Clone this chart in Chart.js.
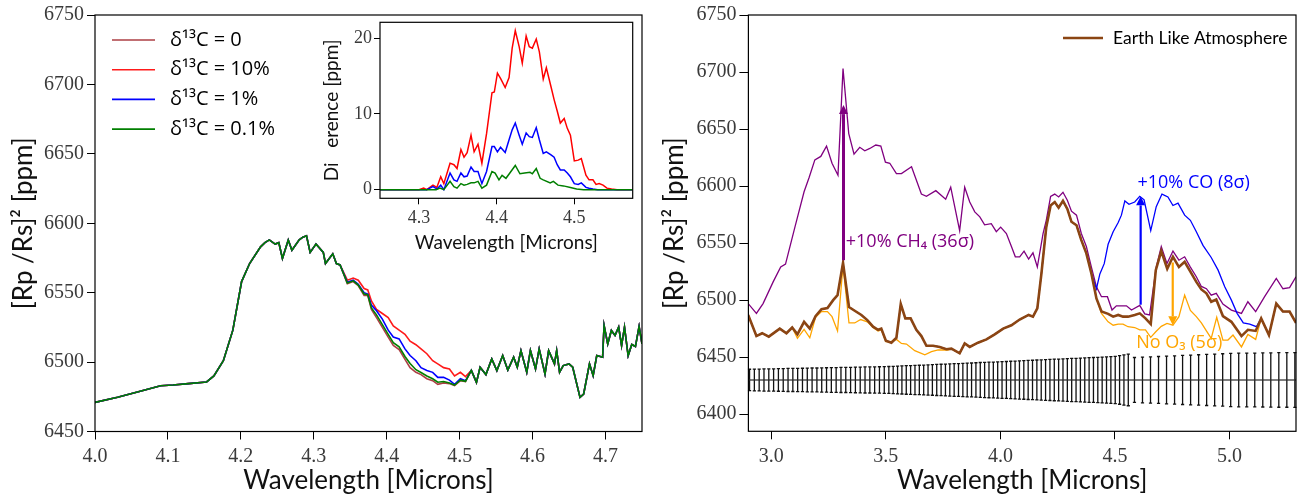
<!DOCTYPE html>
<html>
<head>
<meta charset="utf-8">
<script src="https://cdn.jsdelivr.net/npm/chart.js@4.4.1/dist/chart.umd.min.js"></script>
<style>
  html, body { margin: 0; padding: 0; background: #fff; }
  #wrap { position: relative; width: 1297px; height: 500px; }
  canvas { position: absolute; top: 0; }
  #left { left: 0; }
  #inset { left: 300px; }
  #right { left: 655px; }
</style>
</head>
<body>
<div id="wrap">
  <canvas id="left" width="655" height="500"></canvas>
  <canvas id="inset" width="345" height="260"></canvas>
  <canvas id="right" width="642" height="500"></canvas>
</div>
<script>
// ---------- left panel: d13C spectra ----------
const leftXTicks = [4.0, 4.1, 4.2, 4.3, 4.4, 4.5, 4.6, 4.7];
const leftYTicks = [6450, 6500, 6550, 6600, 6650, 6700, 6750];
const legendLabels = ['δ¹³C = 0', 'δ¹³C = 10%', 'δ¹³C = 1%', 'δ¹³C = 0.1%'];

// shared part before the isotopes split
const headWl = [4.000, 4.031, 4.062, 4.090, 4.107, 4.128, 4.153, 4.163, 4.176, 4.189, 4.201, 4.212, 4.227, 4.233, 4.239,
  4.247, 4.252, 4.257, 4.265, 4.270, 4.280, 4.285, 4.290, 4.295, 4.303, 4.313, 4.316, 4.326, 4.331];
const headPpm = [6471, 6474.6, 6479, 6483, 6483.5, 6484.5, 6485.7, 6490, 6501, 6523, 6558, 6571, 6583, 6586, 6588,
  6585, 6586, 6574.6, 6588, 6580.6, 6588, 6590, 6591, 6579, 6585, 6579, 6571, 6578, 6571];

// region where the four cases differ
const midWl = [4.336, 4.346, 4.354, 4.361, 4.369, 4.374, 4.379, 4.386, 4.394, 4.402, 4.409, 4.417, 4.425, 4.432, 4.440,
  4.447, 4.455, 4.463, 4.470, 4.478, 4.486, 4.493, 4.501, 4.508, 4.516];
const mid0 = [6570, 6556.5, 6558, 6555, 6548, 6548, 6538, 6532, 6525, 6518, 6512, 6509, 6502, 6496, 6492.6,
  6491, 6488, 6486.6, 6484, 6485, 6484.5, 6483, 6486.6, 6486, 6494];
const mid10 = [6570, 6559, 6560.5, 6559, 6553, 6552, 6544, 6538, 6535, 6532, 6526, 6523, 6520, 6515, 6512.5,
  6509.5, 6506, 6501, 6498.7, 6496, 6495, 6490, 6492.6, 6489.5, 6494];
const mid1 = [6570, 6557.5, 6559, 6556, 6550, 6549, 6541, 6537, 6531, 6523, 6518, 6516.7, 6509.5, 6504.7, 6501,
  6496, 6494, 6492.6, 6489, 6489, 6487, 6484, 6488, 6486.5, 6494];
const mid01 = [6570, 6557, 6558.5, 6555.5, 6549, 6548.5, 6539, 6534, 6527, 6520, 6514, 6511, 6504, 6499, 6494.5,
  6492.5, 6490, 6488, 6485.5, 6486, 6485, 6483.5, 6487, 6486.2, 6494];

// shared part after
const tailWl = [4.523, 4.528, 4.536, 4.544, 4.551, 4.559, 4.566, 4.574, 4.579, 4.584, 4.592, 4.597, 4.604, 4.609, 4.617,
  4.622, 4.630, 4.633, 4.637, 4.642, 4.650, 4.655, 4.665, 4.670, 4.678, 4.683, 4.688, 4.696, 4.698, 4.703,
  4.708, 4.713, 4.718, 4.722, 4.726, 4.731, 4.736, 4.741, 4.746, 4.750];
const tailPpm = [6485.4, 6496.3, 6491, 6502.3, 6493.9, 6504.7, 6494.3, 6503.5, 6496.3, 6508.3, 6492.7, 6508.3, 6495, 6509.5, 6491.4,
  6508.3, 6498.7, 6508.3, 6492.7, 6497.5, 6498.7, 6496.3, 6474.6, 6477, 6498.7, 6490.2, 6504.7, 6503.5, 6526.4, 6513.1,
  6522.8, 6519.2, 6525.2, 6511.9, 6525.2, 6504.7, 6512.7, 6511.2, 6525.7, 6513.1];

// ---------- inset: difference ----------
const insetXTicks = [4.3, 4.4, 4.5];
const insetYTicks = [0, 10, 20];
const diff10Wl = [4.25, 4.300, 4.306, 4.310, 4.318, 4.323, 4.328, 4.332, 4.340, 4.345, 4.349, 4.354, 4.358, 4.362, 4.367,
  4.371, 4.376, 4.381, 4.387, 4.394, 4.397, 4.401, 4.405, 4.411, 4.416, 4.420, 4.424, 4.429, 4.433, 4.438,
  4.442, 4.446, 4.451, 4.455, 4.460, 4.464, 4.470, 4.474, 4.478, 4.482, 4.487, 4.491, 4.495, 4.500, 4.505,
  4.509, 4.515, 4.519, 4.524, 4.528, 4.532, 4.537, 4.542, 4.548, 4.555, 4.575];
const diff10 = [0, 0, 0.2, 0, 0.6, 0.3, 1.7, 0.8, 3.5, 3.3, 2.8, 5.3, 4.3, 4.9, 7.2,
  5.0, 6.0, 3.5, 7.4, 12.8, 12.9, 15.4, 14.7, 13.5, 14.8, 18.7, 21.0, 18.9, 16.7, 20.3,
  18.9, 18.7, 19.9, 18.2, 14.6, 16.1, 13.6, 11.9, 10.4, 8.8, 9.4, 8.1, 7.2, 3.8, 3.9,
  4.1, 1.9, 1.3, 1.3, 0.7, 0.8, 0.6, 0.2, 0.1, 0, 0];
const diff1Wl = [4.25, 4.310, 4.314, 4.318, 4.323, 4.328, 4.332, 4.340, 4.345, 4.349, 4.354, 4.358, 4.362, 4.367, 4.371,
  4.376, 4.381, 4.387, 4.394, 4.397, 4.401, 4.405, 4.411, 4.416, 4.420, 4.424, 4.429, 4.433, 4.438, 4.442,
  4.446, 4.451, 4.455, 4.460, 4.464, 4.470, 4.474, 4.478, 4.482, 4.487, 4.491, 4.495, 4.500, 4.505, 4.509,
  4.515, 4.519, 4.524, 4.530, 4.575];
const diff1 = [0, 0, 0.2, 0.4, 0.1, 0.6, 0, 2.2, 1.3, 1.1, 2.2, 1.7, 1.8, 3.0, 2.4,
  2.4, 0.8, 2.4, 5.7, 5.7, 5.0, 5.6, 4.9, 6.6, 7.9, 8.8, 7.2, 6.0, 7.5, 7.0,
  6.9, 8.2, 6.6, 4.8, 5.0, 4.6, 4.3, 3.3, 2.6, 2.6, 2.2, 1.7, 0.8, 0.7, 0.9,
  0.3, 0.2, 0.1, 0, 0];
const diff01Wl = [4.25, 4.322, 4.327, 4.332, 4.340, 4.345, 4.349, 4.354, 4.358, 4.362, 4.367, 4.371, 4.376, 4.381, 4.387,
  4.394, 4.398, 4.403, 4.407, 4.412, 4.417, 4.424, 4.430, 4.436, 4.443, 4.446, 4.451, 4.456, 4.460, 4.469,
  4.473, 4.479, 4.486, 4.495, 4.503, 4.512, 4.575];
const diff01 = [0, 0, 0.2, 0, 1.1, 0.4, 0.2, 0.8, 0.6, 0.7, 0.9, 0.9, 1.1, 0.2, 0.6,
  2.4, 2.2, 1.3, 1.9, 1.5, 2.2, 3.2, 2.1, 2.2, 2.3, 2.1, 2.8, 1.5, 1.3, 0.9,
  1.1, 0.6, 0.5, 0.3, 0.1, 0, 0];

// ---------- right panel: Earth-like spectrum ----------
const rightXTicks = [3.0, 3.5, 4.0, 4.5, 5.0];
const rightYTicks = [6400, 6450, 6500, 6550, 6600, 6650, 6700, 6750];

const earthWl = [2.899, 2.935, 2.960, 2.989, 3.037, 3.066, 3.091, 3.114, 3.143, 3.168, 3.193, 3.219, 3.245, 3.270, 3.289,
  3.313, 3.339, 3.364, 3.393, 3.419, 3.444, 3.466, 3.480, 3.500, 3.524, 3.546, 3.565, 3.585, 3.608, 3.633,
  3.655, 3.677, 3.706, 3.735, 3.764, 3.786, 3.822, 3.844, 3.866, 3.902, 3.939, 3.975, 4.012, 4.048, 4.084,
  4.123, 4.142, 4.161, 4.179, 4.200, 4.219, 4.237, 4.254, 4.273, 4.292, 4.310, 4.332, 4.353, 4.375, 4.397,
  4.419, 4.441, 4.470, 4.492, 4.514, 4.535, 4.557, 4.586, 4.608, 4.633, 4.656, 4.678, 4.702, 4.728, 4.753,
  4.779, 4.804, 4.829, 4.855, 4.877, 4.899, 4.920, 4.942, 4.971, 5.008, 5.052, 5.080, 5.114, 5.138, 5.172,
  5.204, 5.233, 5.262, 5.290];
const earthPpm = [6487, 6468.5, 6471, 6468, 6475, 6471, 6476, 6470, 6481, 6475, 6486, 6492, 6493, 6500, 6504.4,
  6532.7, 6494, 6490.7, 6487, 6482.5, 6476.7, 6474, 6475, 6464.5, 6462.7, 6467, 6496.6, 6484, 6484, 6474,
  6468.5, 6460, 6460, 6459, 6457, 6457.5, 6453.4, 6462, 6459, 6462.7, 6465.6, 6470, 6475, 6478, 6483,
  6487, 6485.5, 6492.8, 6523.4, 6564, 6583, 6586, 6581, 6587, 6580, 6568.7, 6565.7, 6552.6, 6541, 6523.4,
  6501.5, 6490, 6488, 6485.5, 6487, 6485.5, 6485.5, 6487, 6488.4, 6484, 6479, 6526.3, 6543, 6527.5, 6538,
  6529, 6533.6, 6525, 6516, 6509.4, 6506, 6498.6, 6500.6, 6486, 6481, 6468.5, 6474, 6473, 6484, 6469.4,
  6497, 6490, 6490, 6480];

const ch4Wl = [2.899, 2.935, 2.964, 3.008, 3.041, 3.062, 3.103, 3.143, 3.165, 3.190, 3.216, 3.241, 3.265, 3.291, 3.313,
  3.338, 3.361, 3.386, 3.408, 3.430, 3.456, 3.478, 3.498, 3.517, 3.546, 3.568, 3.612, 3.655, 3.677, 3.718,
  3.761, 3.783, 3.822, 3.844, 3.866, 3.888, 3.910, 3.931, 3.960, 3.982, 4.001, 4.026, 4.048, 4.065, 4.084,
  4.103, 4.123, 4.142, 4.161, 4.186, 4.200, 4.219, 4.237, 4.254, 4.273, 4.292, 4.310, 4.332, 4.353, 4.375,
  4.397, 4.419, 4.441, 4.467, 4.487, 4.506, 4.528, 4.550, 4.572, 4.608, 4.630, 4.651, 4.680, 4.702, 4.727,
  4.753, 4.779, 4.804, 4.829, 4.855, 4.877, 4.899, 4.920, 4.942, 4.971, 5.008, 5.052, 5.080, 5.114, 5.153,
  5.204, 5.233, 5.262, 5.290];
const ch4Ppm = [6497, 6488.4, 6497, 6516, 6529, 6531.6, 6564, 6595, 6607.5, 6623, 6626, 6635, 6620, 6609.5, 6703,
  6646, 6628, 6634, 6631, 6633, 6636, 6635, 6621, 6620, 6611, 6611, 6617, 6593, 6591, 6596,
  6588.5, 6599, 6561, 6599, 6586, 6577.4, 6573, 6566, 6567, 6560, 6564, 6558.4, 6547, 6538, 6538,
  6543, 6536, 6541.5, 6529, 6558.4, 6570, 6591, 6593, 6590.5, 6594.6, 6587.6, 6578, 6574.5, 6558.4, 6547,
  6529, 6511.7, 6503, 6503, 6491.3, 6495, 6495, 6495, 6491.3, 6495.4, 6488, 6487, 6529, 6547, 6532,
  6543, 6535, 6538, 6529, 6520.5, 6512, 6510, 6504.4, 6506, 6496.6, 6491.3, 6488.4, 6498.6, 6490, 6503,
  6519, 6510, 6511, 6520.5];

// +10% CO: differs from the Earth case only here
const coWl = [4.419, 4.434, 4.453, 4.470, 4.492, 4.514, 4.528, 4.543, 4.561, 4.586, 4.608, 4.627, 4.656, 4.680, 4.705,
  4.731, 4.753, 4.775, 4.804, 4.829, 4.855, 4.884, 4.920, 4.950, 4.979, 5.008, 5.033, 5.060, 5.088, 5.117];
const coPpm = [6510, 6523, 6532, 6549, 6560, 6568, 6574.5, 6587, 6584, 6586, 6591, 6588, 6561, 6582, 6593,
  6590.5, 6583, 6585, 6574.5, 6570, 6560, 6548, 6537.4, 6526.3, 6511.7, 6500, 6488.4, 6480, 6479, 6476.7];

// no O3: two stretches that differ from the Earth case
const noO3WlA = [3.114, 3.143, 3.168, 3.193, 3.219, 3.245, 3.265, 3.289, 3.313, 3.339, 3.364, 3.390, 3.419, 3.444, 3.466,
  3.480, 3.500, 3.524, 3.546, 3.568, 3.590, 3.626, 3.670, 3.699, 3.728, 3.771];
const noO3PpmA = [6466.5, 6474.4, 6467, 6485, 6490, 6490, 6485.5, 6473, 6530.7, 6480, 6480, 6483, 6481, 6476, 6473,
  6474, 6463.6, 6463.6, 6465.6, 6462, 6461.5, 6455.7, 6452, 6454.8, 6456.3, 6456.3];
const noO3WlB = [4.441, 4.470, 4.492, 4.514, 4.535, 4.557, 4.586, 4.608, 4.633, 4.656, 4.678, 4.702, 4.727, 4.753, 4.779,
  4.804, 4.829, 4.855, 4.877, 4.899, 4.920, 4.944, 4.971, 4.993, 5.015, 5.052, 5.080, 5.114];
const noO3PpmB = [6488.4, 6481, 6478, 6479, 6479, 6476.7, 6476, 6474, 6474, 6467.4, 6472.3, 6477, 6479.6, 6478, 6485.5,
  6504.4, 6491, 6485.5, 6480, 6473, 6466.5, 6485, 6465, 6465, 6469.4, 6459, 6470, 6465.6];

// simulated uncertainty bars around a flat reference level
const errCenter = 6430;
const errWl = [2.905, 2.926, 2.947, 2.968, 2.989, 3.010, 3.031, 3.052, 3.073, 3.094, 3.115, 3.136, 3.157, 3.178, 3.199,
  3.220, 3.241, 3.262, 3.283, 3.304, 3.325, 3.346, 3.367, 3.388, 3.409, 3.430, 3.451, 3.472, 3.493, 3.513,
  3.532, 3.551, 3.570, 3.589, 3.608, 3.627, 3.646, 3.665, 3.684, 3.703, 3.722, 3.741, 3.760, 3.779, 3.798,
  3.817, 3.836, 3.855, 3.874, 3.893, 3.912, 3.931, 3.950, 3.969, 3.988, 4.007, 4.026, 4.045, 4.064, 4.083,
  4.102, 4.121, 4.140, 4.159, 4.178, 4.197, 4.216, 4.235, 4.254, 4.273, 4.292, 4.311, 4.330, 4.349, 4.368,
  4.387, 4.406, 4.425, 4.444, 4.463, 4.482, 4.501, 4.520, 4.539, 4.558,
  4.585, 4.620, 4.655, 4.690, 4.725, 4.760, 4.795, 4.830, 4.865, 4.900, 4.935, 4.970, 5.005, 5.040, 5.075,
  5.110, 5.145, 5.180, 5.215, 5.250, 5.285];
const errSig = [9.4, 9.5, 9.6, 9.7, 9.7, 9.8, 9.9, 10.0, 10.1, 10.1, 10.2, 10.3, 10.4, 10.5, 10.5,
  10.6, 10.7, 10.8, 10.9, 11.0, 11.0, 11.1, 11.2, 11.3, 11.4, 11.4, 11.5, 11.6, 11.7, 11.8,
  12.0, 12.1, 12.3, 12.5, 12.6, 12.8, 12.9, 13.1, 13.3, 13.4, 13.6, 13.8, 13.9, 14.1, 14.3,
  14.4, 14.6, 14.8, 14.9, 15.1, 15.3, 15.4, 15.6, 15.7, 15.9, 16.1, 16.2, 16.4, 16.6, 16.8,
  16.9, 17.1, 17.3, 17.5, 17.6, 17.8, 18.0, 18.2, 18.3, 18.5, 18.7, 18.9, 19.0, 19.2, 19.4,
  19.6, 19.7, 19.9, 20.1, 20.3, 20.5, 20.7, 21.3, 22.0, 22.6,
  19.7, 20.0, 20.3, 20.6, 20.9, 21.2, 21.5, 21.8, 22.1, 22.4, 22.7, 23.0, 23.4, 23.5, 23.6,
  23.6, 23.7, 23.8, 23.9, 23.9, 24.0];

const arrowWl = [3.315, 4.612, 4.752];
const arrowFrom = [6535, 6496, 6533];
const arrowTo = [6671, 6591, 6478];
const noteText = ['+10% CH₄ (36σ)', '+10% CO (8σ)', 'No O₃ (5σ)'];
const noteWl = [3.325, 4.598, 4.593];
const notePpm = [6551, 6602.5, 6462.5];

// ---------- helpers ----------
const pts = (xs, ys) => xs.map((x, i) => ({ x: x, y: ys[i] }));
function splice(base, segX, segY) {
  const lo = segX[0], hi = segX[segX.length - 1];
  return base.filter(p => p.x < lo).concat(pts(segX, segY), base.filter(p => p.x > hi));
}
const spectrum = mid => pts(headWl, headPpm).concat(pts(midWl, mid), pts(tailWl, tailPpm));

const SERIF = "'Liberation Serif', serif";
const SANS = "Lato, 'Open Sans', sans-serif";
const NOTE = "'Open Sans', 'Noto Sans', sans-serif";

function axis(min, max, ticks, fmt, size, fit, tickLen, pad) {
  return {
    type: 'linear', min: min, max: max,
    afterBuildTicks: a => { a.ticks = ticks.map(v => ({ value: v })); },
    afterFit: fit,
    grid: { drawOnChartArea: false, drawTicks: true, tickLength: tickLen, color: '#000', lineWidth: 1 },
    border: { display: false },
    ticks: { font: { family: SERIF, size: size }, color: '#3a3a3a', padding: pad, autoSkip: false, maxRotation: 0,
      callback: fmt }
  };
}
const f1 = v => Number(v).toFixed(1);
const f0 = v => String(Math.round(v));

function line(label, data, color, width, order) {
  return { label: label, data: data, borderColor: color, borderWidth: width, pointRadius: 0, tension: 0,
    fill: false, order: order };
}

const frame = {
  id: 'frame',
  afterDatasetsDraw(chart) {
    const a = chart.chartArea, ctx = chart.ctx;
    ctx.save();
    ctx.strokeStyle = '#000';
    ctx.lineWidth = 1.2;
    ctx.strokeRect(a.left, a.top, a.right - a.left, a.bottom - a.top);
    ctx.restore();
  }
};

function titles(xText, yText, xSize, ySize, xY, yX) {
  return {
    id: 'titles',
    afterDraw(chart) {
      const a = chart.chartArea, ctx = chart.ctx;
      ctx.save();
      ctx.fillStyle = '#111';
      ctx.textAlign = 'center';
      ctx.textBaseline = 'middle';
      ctx.font = xSize + 'px ' + SANS;
      ctx.fillText(xText, (a.left + a.right) / 2, xY);
      ctx.translate(yX, (a.top + a.bottom) / 2);
      ctx.rotate(-Math.PI / 2);
      ctx.font = ySize + 'px ' + SANS;
      ctx.fillText(yText, 0, 0);
      ctx.restore();
    }
  };
}

const commonOpts = {
  responsive: false,
  animation: false,
  events: [],
  plugins: { legend: { display: false }, tooltip: { enabled: false } }
};

// ---------- left chart ----------
const leftColors = ['#ad3f44', '#ff1a1a', '#0000ff', '#007f00'];
const leftLegend = {
  id: 'leftLegend',
  afterDraw(chart) {
    const ctx = chart.ctx;
    ctx.save();
    legendLabels.forEach((t, i) => {
      const y = 40 + i * 29.7;
      ctx.strokeStyle = leftColors[i];
      ctx.lineWidth = 1.6;
      ctx.beginPath(); ctx.moveTo(112, y); ctx.lineTo(155, y); ctx.stroke();
      ctx.fillStyle = '#000';
      ctx.font = '20px ' + NOTE;
      ctx.textBaseline = 'middle';
      ctx.fillText(t, 170, y);
    });
    ctx.restore();
  }
};

new Chart(document.getElementById('left'), {
  type: 'line',
  data: {
    datasets: [
      line(legendLabels[0], spectrum(mid0), leftColors[0], 1.6, 3),
      line(legendLabels[1], spectrum(mid10), leftColors[1], 1.6, 2),
      line(legendLabels[2], spectrum(mid1), leftColors[2], 1.6, 1),
      line(legendLabels[3], spectrum(mid01), leftColors[3], 1.6, 0)
    ]
  },
  options: Object.assign({}, commonOpts, {
    layout: { padding: { left: 0, top: 15, right: 13, bottom: 0 } },
    scales: {
      x: axis(4.0, 4.75, leftXTicks, f1, 20, s => { s.height = 68.5; }, 8, 5),
      y: axis(6450, 6750, leftYTicks, f0, 20, s => { s.width = 95; }, 8, 3)
    }
  }),
  plugins: [frame, leftLegend, titles('Wavelength [Microns]', '[Rp /Rs]² [ppm]', 26, 26, 481, 24)]
});

// ---------- inset ----------
new Chart(document.getElementById('inset'), {
  type: 'line',
  data: {
    datasets: [
      line('10%', pts(diff10Wl, diff10), '#ff0000', 1.5, 2),
      line('1%', pts(diff1Wl, diff1), '#0000ff', 1.5, 1),
      line('0.1%', pts(diff01Wl, diff01), '#007f00', 1.5, 0)
    ]
  },
  options: Object.assign({}, commonOpts, {
    layout: { padding: { left: 0, top: 22.3, right: 12.3, bottom: 0 } },
    scales: {
      x: axis(4.2498, 4.5752, insetXTicks, f1, 18, s => { s.height = 61.7; }, 6, 3),
      y: axis(-1.14, 22.11, insetYTicks, f0, 18, s => { s.width = 80; }, 6, 2)
    }
  }),
  plugins: [frame, titles('Wavelength [Microns]', 'Di   erence [ppm]', 19, 19, 243, 32)]
});

// ---------- right chart ----------
const rightColors = { earth: '#8b4513', ch4: '#800080', co: '#0000ff', o3: '#ffa500' };
const earth = pts(earthWl, earthPpm);
const coSeries = splice(earth, coWl, coPpm);
const o3Series = splice(splice(earth, noO3WlA, noO3PpmA), noO3WlB, noO3PpmB);
const noteColors = [rightColors.ch4, rightColors.co, rightColors.o3];
const arrowWidths = [3, 2.2, 2.2];

const errorBars = {
  id: 'errorBars',
  beforeDatasetsDraw(chart) {
    const x = chart.scales.x, y = chart.scales.y, ctx = chart.ctx;
    ctx.save();
    ctx.strokeStyle = '#111';
    ctx.lineWidth = 1.3;
    errWl.forEach((w, i) => {
      const px = x.getPixelForValue(w);
      const top = y.getPixelForValue(errCenter + errSig[i]);
      const bot = y.getPixelForValue(errCenter - errSig[i]);
      ctx.beginPath();
      ctx.moveTo(px, top); ctx.lineTo(px, bot);
      ctx.moveTo(px - 1.6, top); ctx.lineTo(px + 1.6, top);
      ctx.moveTo(px - 1.6, bot); ctx.lineTo(px + 1.6, bot);
      ctx.stroke();
    });
    const c = y.getPixelForValue(errCenter);
    ctx.strokeStyle = 'rgba(40,40,40,0.8)';
    ctx.lineWidth = 1.5;
    ctx.beginPath();
    ctx.moveTo(chart.chartArea.left, c);
    ctx.lineTo(chart.chartArea.right, c);
    ctx.stroke();
    ctx.restore();
  }
};

const notes = {
  id: 'notes',
  afterDatasetsDraw(chart) {
    const x = chart.scales.x, y = chart.scales.y, ctx = chart.ctx;
    ctx.save();
    arrowWl.forEach((w, i) => {
      const px = x.getPixelForValue(w);
      const y0 = y.getPixelForValue(arrowFrom[i]);
      const y1 = y.getPixelForValue(arrowTo[i]);
      const dir = y1 < y0 ? -1 : 1;
      const head = 9;
      ctx.strokeStyle = noteColors[i];
      ctx.fillStyle = noteColors[i];
      ctx.lineWidth = arrowWidths[i];
      ctx.beginPath(); ctx.moveTo(px, y0); ctx.lineTo(px, y1 - dir * head); ctx.stroke();
      ctx.beginPath();
      ctx.moveTo(px, y1);
      ctx.lineTo(px - 4.5, y1 - dir * head);
      ctx.lineTo(px + 4.5, y1 - dir * head);
      ctx.closePath(); ctx.fill();
    });
    ctx.font = '18px ' + NOTE;
    ctx.textBaseline = 'middle';
    noteText.forEach((t, i) => {
      ctx.fillStyle = noteColors[i];
      ctx.fillText(t, x.getPixelForValue(noteWl[i]), y.getPixelForValue(notePpm[i]));
    });
    // legend
    ctx.strokeStyle = rightColors.earth;
    ctx.lineWidth = 2.6;
    ctx.beginPath(); ctx.moveTo(408, 38); ctx.lineTo(448, 38); ctx.stroke();
    ctx.fillStyle = '#000';
    ctx.font = '17.5px ' + SANS;
    ctx.fillText('Earth Like Atmosphere', 458, 38);
    ctx.restore();
  }
};

new Chart(document.getElementById('right'), {
  type: 'line',
  data: {
    datasets: [
      line('Earth Like Atmosphere', earth, rightColors.earth, 2.6, 0),
      line('No O3', o3Series, rightColors.o3, 1.3, 1),
      line('+10% CO', coSeries, rightColors.co, 1.3, 2),
      line('+10% CH4', pts(ch4Wl, ch4Ppm), rightColors.ch4, 1.3, 3)
    ]
  },
  options: Object.assign({}, commonOpts, {
    layout: { padding: { left: 0, top: 14.6, right: 1, bottom: 0 } },
    scales: {
      x: axis(2.9, 5.29, rightXTicks, f1, 20, s => { s.height = 68.7; }, 8, 5),
      y: axis(6385, 6750, rightYTicks, f0, 20, s => { s.width = 93.4; }, 9, 3)
    }
  }),
  plugins: [errorBars, frame, notes, titles('Wavelength [Microns]', '[Rp /Rs]² [ppm]', 26, 26, 481, 20)]
});
</script>
</body>
</html>
